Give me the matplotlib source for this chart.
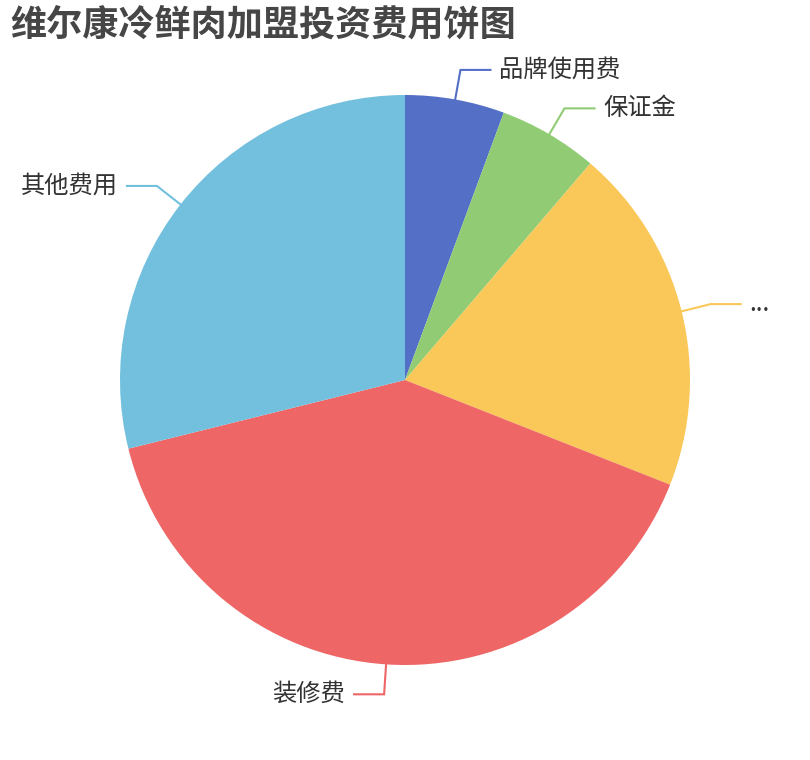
import numpy as np
import matplotlib
matplotlib.use("Agg")
import matplotlib.pyplot as plt

plt.rcParams['font.family'] = ['Noto Sans CJK SC', 'DejaVu Sans']

title = "维尔康冷鲜肉加盟投资费用饼图"
categories = ["品牌使用费", "保证金", "...", "装修费", "其他费用"]
values = [0.8, 0.8, 2.8, 5.7, 4.1]
colors = ["#5470c6", "#91cc75", "#fac858", "#ee6666", "#73c0de"]

W, H = 810, 760
fig = plt.figure(figsize=(W / 100, H / 100), dpi=100)
ax = fig.add_axes([0, 0, 1, 1])

cx, cy, R = 405, 380, 285
wedges, _ = ax.pie(values, startangle=90, counterclock=False, colors=colors,
                   center=(cx, cy), radius=R, frame=True,
                   wedgeprops=dict(linewidth=0))
ax.set_xlim(0, W)
ax.set_ylim(0, H)
ax.set_aspect('equal')
ax.axis('off')

len1, len2 = 30, 30
for w, lab, col in zip(wedges, categories, colors):
    mid = np.deg2rad((w.theta1 + w.theta2) / 2)
    x0, y0 = cx + R * np.cos(mid), cy + R * np.sin(mid)
    x1, y1 = cx + (R + len1) * np.cos(mid), cy + (R + len1) * np.sin(mid)
    side = 1 if np.cos(mid) >= 0 else -1
    x2 = x1 + side * len2
    ax.plot([x0, x1, x2], [y0, y1, y1], color=col, lw=1.5,
            solid_joinstyle='miter', zorder=3)
    ax.text(x2 + side * 9, y1, lab, ha='left' if side > 0 else 'right',
            va='center', fontsize=17.5, color='#333333')

fig.text(10 / W, 1 - 25 / H, title, fontsize=26, fontweight='bold',
         color='#464646', ha='left', va='center')

fig.savefig("out.png", dpi=100, facecolor='white')
